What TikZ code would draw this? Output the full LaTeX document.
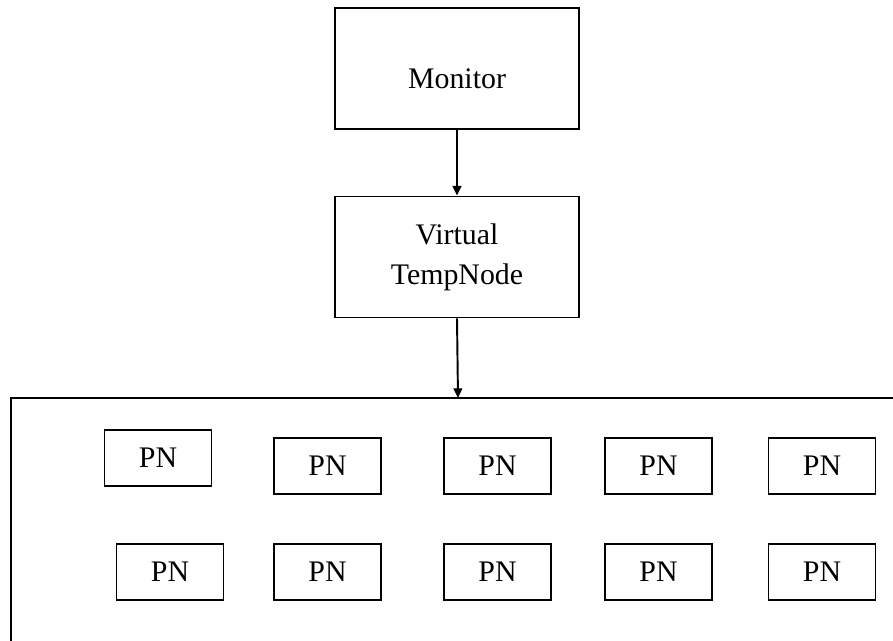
\documentclass[tikz,border=0pt]{standalone}
\usepackage{fontspec}
\setmainfont{Liberation Serif}
\usetikzlibrary{positioning, arrows.meta}

\begin{document}
\begin{tikzpicture}[x=0.02cm, y=-0.02cm, line width=1.1pt]
                % Define the styles for the boxes and the arrows
                \tikzstyle{bigbox}=[draw, rectangle, minimum width=4.88cm, minimum height=2.42cm, font=\fontsize{17}{22.7}\selectfont, align=center];
                \tikzstyle{pnbox}=[draw, rectangle, minimum width=2.14cm, minimum height=1.12cm, font=\fontsize{17}{20}\selectfont];
                \tikzstyle{link}=[-{Triangle[length=5.5pt, width=5pt]}];
                
                % Fix the size of the picture
                \useasboundingbox (0,0) rectangle (893,641);
                
                % Draw the monitor and the virtual temp node
                \node[bigbox, text height=0.8cm, text depth=0cm] (monitor) at (457,68.5) {Monitor};
                \node[bigbox] (vtnode) at (457,257) {Virtual\\TempNode};
                
                % Draw the pool of physical nodes (it runs off the page)
                \draw (11,660) -- (11,398) -- (910,398);
                \coordinate (pooltop) at (458,398);
                
                % Draw the physical nodes
                \foreach \i/\x/\y in {1/158/458, 2/327.5/466, 3/497.5/466, 4/658.5/466, 5/822/466,
                                      6/170/572, 7/327.5/572, 8/497.5/572, 9/658.5/572, 10/822/572}
                    \node[pnbox] (pn\i) at (\x,\y) {PN};
                
                % Connect the boxes
                \draw[link] (monitor) -- (vtnode);
                \draw[link] (vtnode.south) -- (pooltop);
            \end{tikzpicture}
\end{document}
